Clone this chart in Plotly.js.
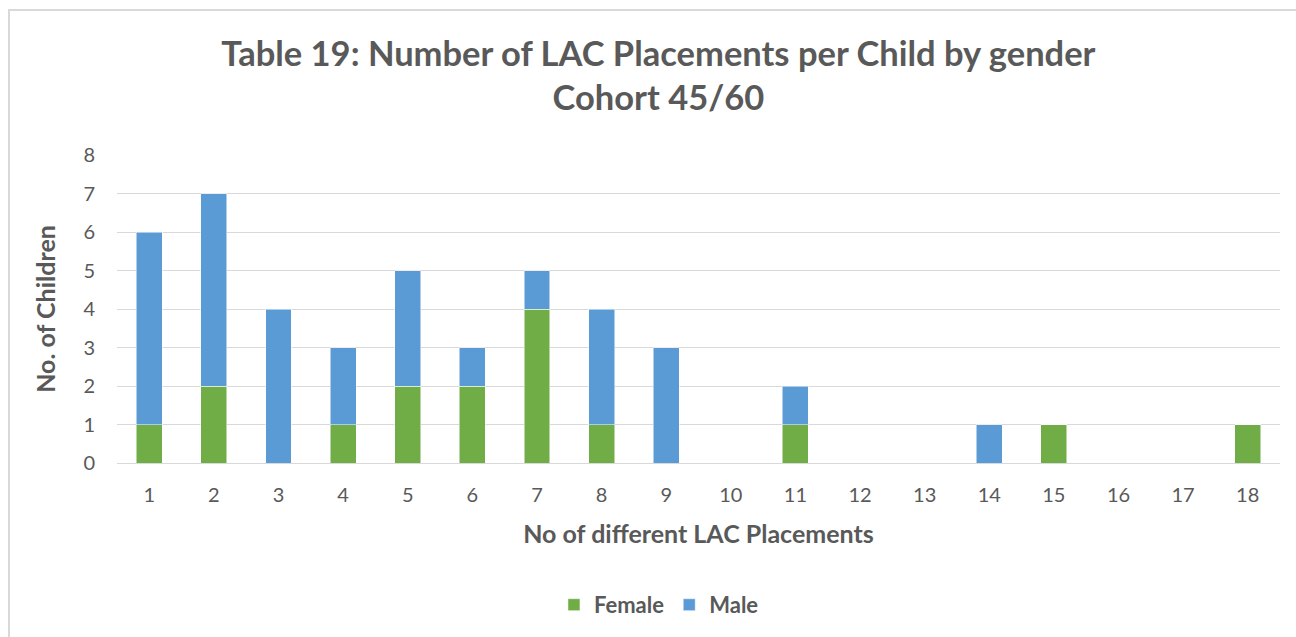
<!DOCTYPE html>
<html>
<head>
<meta charset="utf-8">
<script src="https://cdn.plot.ly/plotly-3.0.1.min.js"></script>
<style>
html,body{margin:0;padding:0;background:#fff;}
#wrap{position:relative;width:1296px;height:637px;overflow:hidden;}
#chart{width:1296px;height:637px;}
#frame{position:absolute;left:8px;top:9px;width:1300px;height:640px;border:2px solid #d9d9d9;box-sizing:border-box;pointer-events:none;}
</style>
</head>
<body>
<div id="wrap"><div id="chart"></div><div id="frame"></div></div>
<script>
const categories = ["1","2","3","4","5","6","7","8","9","10","11","12","13","14","15","16","17","18"];
const female = [1,2,0,1,2,2,4,1,0,0,1,0,0,0,1,0,0,1];
const male   = [5,5,4,2,3,1,1,3,3,0,1,0,0,1,0,0,0,0];
const yTicks = [0,1,2,3,4,5,6,7,8];

const font = "Lato, 'Open Sans', sans-serif";
const grey = "#595959";

const traces = [
  {type:"bar", name:"<b>Female</b>", x:categories, y:female,
   marker:{color:"#70AD47", line:{color:"#ffffff", width:0.5}}},
  {type:"bar", name:"<b>Male</b>", x:categories, y:male,
   marker:{color:"#5B9BD5", line:{color:"#ffffff", width:0.5}}}
];

const layout = {
  width:1296, height:637,
  barmode:"stack", bargap:0.6,
  paper_bgcolor:"#ffffff", plot_bgcolor:"#ffffff",
  margin:{l:117, r:16, t:155, b:173},
  font:{family:font, color:grey},
  title:{text:"<b>Table 19: Number of LAC Placements per Child by gender<br>Cohort 45/60</b>",
         font:{family:font, size:34.5, color:grey}, x:0.508, xanchor:"center", y:0.897, yanchor:"middle"},
  xaxis:{type:"category", tickfont:{size:20, color:grey}, showgrid:false,
         showline:true, linecolor:"#d9d9d9", linewidth:1, ticks:"outside", ticklen:14, tickcolor:"rgba(0,0,0,0)",
         title:{text:"<b>No of different LAC Placements</b>", font:{size:25, color:grey}, standoff:20}},
  yaxis:{range:[0,8], tickvals:yTicks, tickfont:{size:20, color:grey},
         gridcolor:"#d9d9d9", gridwidth:1, zeroline:false, ticks:"outside", ticklen:17, tickcolor:"rgba(0,0,0,0)",
         title:{text:"<b>No. of Children</b>", font:{size:25, color:grey}, standoff:20}},
  legend:{orientation:"h", x:0.466, xanchor:"center", y:-0.456, yanchor:"middle",
          font:{size:22, color:grey}, traceorder:"normal", itemwidth:20},
  showlegend:true
};

Plotly.newPlot("chart", traces, layout, {displayModeBar:false, staticPlot:true});
</script>
</body>
</html>
